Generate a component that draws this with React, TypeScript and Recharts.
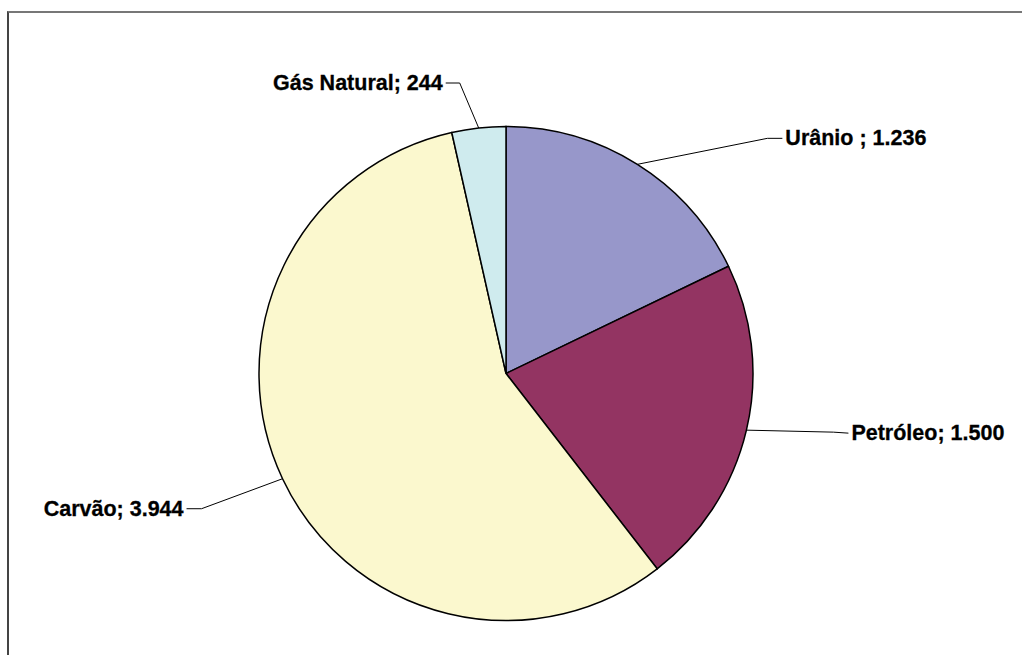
import { PieChart, Pie, Cell } from 'recharts';

const categories = ['Urânio ', 'Petróleo', 'Carvão', 'Gás Natural'];
const values = [1236, 1500, 3944, 244];
const valueLabels = ['1.236', '1.500', '3.944', '244'];
const colors = ['#9797ca', '#933462', '#fbf8ce', '#cfebee'];

// leader line geometry relative to the slice edge: elbow, end, text side
const leaders = [
  { ex: 130, ey: -26, tx: 145, ty: -26, anchor: 'start' },
  { ex: 87, ey: 2, tx: 102, ty: 3, anchor: 'start' },
  { ex: -81, ey: 30, tx: -96, ty: 30, anchor: 'end' },
  { ex: -19, ey: -45, tx: -33, ty: -45, anchor: 'end' },
];

const data = categories.map((name, i) => ({ name, value: values[i], label: valueLabels[i] }));

const RADIAN = Math.PI / 180;

const renderLabel = (props: any) => {
  const { cx, cy, midAngle, outerRadius, index } = props;
  const sx = cx + outerRadius * Math.cos(-midAngle * RADIAN);
  const sy = cy + outerRadius * Math.sin(-midAngle * RADIAN);
  const l = leaders[index];
  const mx = sx + l.ex;
  const my = sy + l.ey;
  const ex = sx + l.tx;
  const ey = sy + l.ty;
  const textX = l.anchor === 'start' ? ex + 3 : ex - 3;
  return (
    <g>
      <polyline
        points={`${sx},${sy} ${mx},${my} ${ex},${ey}`}
        fill="none"
        stroke="#000"
        strokeWidth={1}
      />
      <text
        x={textX}
        y={ey}
        textAnchor={l.anchor}
        dominantBaseline="central"
        fontFamily="Liberation Sans, Arial, sans-serif"
        fontWeight="bold"
        fontSize={21.5}
        fill="#000"
        stroke="#000"
        strokeWidth={0.3}
      >
        {`${data[index].name}; ${data[index].label}`}
      </text>
    </g>
  );
};

export default function App() {
  return (
    <div
      style={{
        position: 'absolute',
        left: 0,
        top: 0,
        width: 1022,
        height: 655,
        overflow: 'hidden',
        background: '#fff',
      }}
    >
      <div
        style={{
          position: 'absolute',
          left: 7,
          top: 11,
          width: 1100,
          height: 700,
          borderTop: '2px solid #777',
          borderLeft: '2px solid #444',
        }}
      />
      <div style={{ position: 'absolute', left: 0, top: 0 }}>
        <PieChart width={1022} height={655} margin={{ top: 0, right: 0, bottom: 0, left: 0 }}>
          <Pie
            data={data}
            dataKey="value"
            nameKey="name"
            cx={506}
            cy={373.5}
            outerRadius={247}
            startAngle={90}
            endAngle={-270}
            stroke="#000"
            strokeWidth={1.5}
            label={renderLabel}
            labelLine={false}
            isAnimationActive={false}
          >
            {data.map((d, i) => (
              <Cell key={d.name} fill={colors[i]} />
            ))}
          </Pie>
        </PieChart>
      </div>
    </div>
  );
}
